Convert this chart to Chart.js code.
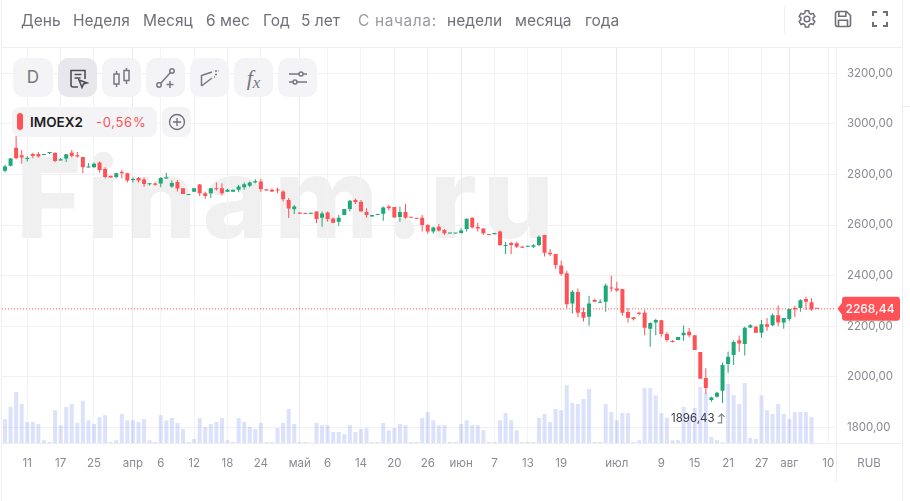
<!DOCTYPE html>
<html lang="ru">
<head>
<meta charset="utf-8">
<title>IMOEX2</title>
<script src="https://cdn.jsdelivr.net/npm/chart.js@4"></script>
<style>
  html, body { margin: 0; background: #fff; }
  body { font-family: Inter, sans-serif; }
  #wrap { position: relative; width: 910px; height: 501px; overflow: hidden; background: #fff; }
  #mark { position: absolute; left: 16px; top: 122px; font: 800 112px/150px Inter, sans-serif; color: #f0f0f1; letter-spacing: 6px; white-space: nowrap; }
  canvas { position: absolute; left: 0; top: 0; }
  .line { position: absolute; background: #eeeef2; z-index: 2; }
  .per { position: absolute; top: 11px; font-size: 15.5px; line-height: 20px; color: #70707a; white-space: nowrap; z-index: 3; }
  .per.dim { color: #9a9aa3; letter-spacing: .6px; }
  .btn { position: absolute; top: 58px; width: 39px; height: 39px; border-radius: 10px; background: #f4f4f6; z-index: 3; color: #77777f; text-align: center; }
  .btn.on { background: #e8e8ec; color: #4e4e58; }
  .btn svg { position: absolute; left: 7.5px; top: 7.5px; }
  .pill { position: absolute; top: 107px; height: 30px; border-radius: 8px; background: #f4f4f6; z-index: 3; }
  .top svg { position: absolute; z-index: 3; }
  #rub { position: absolute; left: 836px; width: 66px; top: 455px; text-align: center; font-size: 11.5px; line-height: 16px; color: #8a8a94; z-index: 3; }
</style>
</head>
<body>
<div id="wrap">
  <div id="mark">Finam.ru</div>
  <canvas id="chart" width="910" height="501"></canvas>

  <div class="line" style="left:1px;top:0;width:1px;height:501px"></div>
  <div class="line" style="left:902px;top:0;width:1px;height:501px"></div>
  <div class="line" style="left:2px;top:47px;width:900px;height:1px"></div>
  <div class="line" style="left:2px;top:443px;width:900px;height:1px"></div>
  <div class="line" style="left:836px;top:47px;width:1px;height:435px"></div>
  <div class="line" style="left:784px;top:7px;width:1px;height:27px"></div>
  <div class="line" style="left:903px;top:106px;width:7px;height:1px"></div>

  <span class="per" style="left:21px">День</span>
  <span class="per" style="left:73px">Неделя</span>
  <span class="per" style="left:143px">Месяц</span>
  <span class="per" style="left:206px">6 мес</span>
  <span class="per" style="left:263px">Год</span>
  <span class="per" style="left:301px">5 лет</span>
  <span class="per dim" style="left:358px">С начала:</span>
  <span class="per" style="left:447px">недели</span>
  <span class="per" style="left:515px">месяца</span>
  <span class="per" style="left:585px">года</span>

  <div class="top">
    <svg style="left:797px;top:9px" width="20" height="20" viewBox="0 0 20 20" fill="none" stroke="#6f6f79" stroke-width="1.5"><path d="M8.3 1.8h3.4l.5 2.3 1.7 1 2.2-.8 1.7 3-1.7 1.6v2l1.7 1.6-1.7 3-2.2-.8-1.7 1-.5 2.3H8.3l-.5-2.3-1.7-1-2.2.8-1.7-3 1.7-1.6v-2L2.2 7.3l1.7-3 2.2.8 1.7-1z"/><circle cx="10" cy="10" r="2.8"/></svg>
    <svg style="left:834px;top:10px" width="18" height="18" viewBox="0 0 18 18" fill="none" stroke="#6f6f79" stroke-width="1.6"><path d="M1.5 3.5a2 2 0 0 1 2-2h9l4 4v9a2 2 0 0 1-2 2h-11a2 2 0 0 1-2-2z"/><path d="M4.8 1.8v4.4h7V1.8M4.5 16.2v-6h9v6"/></svg>
    <svg style="left:872px;top:11px" width="16" height="16" viewBox="0 0 16 16" fill="none" stroke="#6f6f79" stroke-width="2"><path d="M1 5V1h4M11 1h4v4M15 11v4h-4M5 15H1v-4"/></svg>
  </div>

  <div class="btn" style="left:13px;width:40px;font-size:17px;line-height:39px">D</div>
  <div class="btn on" style="left:58px"><svg width="24" height="24" viewBox="0 0 24 24" fill="none" stroke="currentColor" stroke-width="1.6"><path d="M12 21H7a2 2 0 0 1-2-2V4.500h14V13"/><path d="M8.500 8.500h7M8.500 12h6"/><path d="M13 14l8 3-3.500 1-1.500 3.500z"/></svg></div>
  <div class="btn" style="left:102px"><svg width="24" height="24" viewBox="0 0 24 24" fill="none" stroke="currentColor" stroke-width="1.5"><rect x="4" y="8" width="5" height="10"/><path d="M6.500 5v3M6.500 18v3"/><rect x="14" y="4.500" width="5" height="10"/><path d="M16.500 2v2.500M16.500 14.500V18"/></svg></div>
  <div class="btn" style="left:146px"><svg width="24" height="24" viewBox="0 0 24 24" fill="none" stroke="currentColor" stroke-width="1.5"><circle cx="5" cy="19" r="2.200"/><circle cx="18" cy="5" r="2.200"/><path d="M6.500 17.400 16.500 6.600M16 15v7M12.500 18.500h7"/></svg></div>
  <div class="btn" style="left:190px"><svg width="24" height="24" viewBox="0 0 24 24" fill="none" stroke="currentColor" stroke-width="1.5"><path d="M3.500 20V9.500L14 6M3.500 20 14 12"/><path d="M17 5h4M17 8.500h2M16 11h1" stroke-dasharray="2 1.500"/></svg></div>
  <div class="btn" style="left:234px;font:italic 22px/39px 'Liberation Serif',serif">f<span style="font-size:17px;position:relative;top:3px">x</span></div>
  <div class="btn" style="left:278px"><svg width="24" height="24" viewBox="0 0 24 24" fill="none" stroke="currentColor" stroke-width="1.5"><path d="M3 8h10M17 8h4M3 16h4M11 16h10"/><circle cx="15" cy="8" r="2"/><circle cx="9" cy="16" r="2"/></svg></div>

  <div class="pill" style="left:12px;width:145px">
    <span style="position:absolute;left:5px;top:6px;width:6px;height:17px;border-radius:3px;background:#ff5257"></span>
    <span style="position:absolute;left:18px;top:5px;font-size:13.5px;line-height:20px;font-weight:600;color:#1c1c22">IMOEX2</span>
    <span style="position:absolute;left:84px;top:5px;font-size:13px;line-height:20px;letter-spacing:.7px;color:#ff5257">-0,56%</span>
  </div>
  <div class="pill" style="left:162px;width:29px">
    <svg style="position:absolute;left:5px;top:5px" width="20" height="20" viewBox="0 0 20 20" fill="none" stroke="#6f6f79" stroke-width="1.3"><circle cx="10" cy="10" r="7.500"/><path d="M10 6v8M6 10h8"/></svg>
  </div>

  <div id="rub">RUB</div>
</div>

<script>
// цены и объёмы
const open_ = [
  2815,2834,2906,2876,2861,2881,2881,2877,2885,2886,
  2855,2863,2886,2876,2869,2827,2828,2847,2822,2795,
  2790,2810,2805,2778,2786,2780,2761,2764,2764,2784,
  2752,2770,2745,2719,2732,2760,2726,2726,2745,2745,
  2732,2732,2739,2749,2755,2768,2772,2741,2739,2739,
  2733,2699,2662,2649,2647,2645,2653,2629,2649,2626,
  2613,2640,2663,2699,2692,2651,2634,2640,2645,2673,
  2671,2632,2651,2631,2628,2629,2600,2574,2593,2580,
  2566,2566,2568,2584,2629,2592,2586,2564,2563,2574,
  2517,2529,2528,2514,2514,2514,2521,2560,2490,2485,
  2440,2409,2290,2335,2256,2237,2303,2293,2297,2353,
  2349,2347,2256,2235,2253,2253,2190,2214,2223,2169,
  2141,2145,2164,2178,2164,2098,1995,1908,1921,1945,
  2050,2086,2144,2129,2195,2198,2174,2208,2204,2243,
  2214,2228,2272,2272,2307,2295,2270
];
const close_ = [
  2831,2863,2864,2867,2865,2873,2871,2881,2889,2853,
  2860,2880,2873,2871,2828,2830,2842,2818,2790,2788,
  2805,2805,2776,2782,2776,2762,2765,2759,2786,2789,
  2766,2744,2723,2723,2745,2726,2715,2745,2741,2726,
  2739,2739,2752,2761,2768,2773,2741,2736,2733,2736,
  2702,2665,2673,2645,2644,2648,2624,2646,2624,2609,
  2629,2663,2696,2691,2653,2640,2640,2644,2669,2666,
  2630,2651,2629,2629,2625,2600,2574,2590,2578,2567,
  2568,2568,2578,2625,2590,2586,2567,2560,2568,2521,
  2520,2521,2514,2510,2518,2520,2554,2490,2484,2442,
  2406,2287,2336,2253,2233,2290,2297,2297,2361,2349,
  2341,2253,2233,2228,2248,2194,2212,2224,2169,2145,
  2137,2157,2174,2164,2106,1992,1955,1918,1937,2046,
  2079,2137,2131,2194,2204,2174,2208,2198,2243,2214,
  2232,2268,2266,2302,2297,2266,2268.44
];
const high_ = [
  2838,2865,2952,2897,2873,2886,2889,2881,2889,2886,
  2865,2880,2897,2889,2869,2844,2847,2851,2828,2795,
  2807,2818,2807,2788,2790,2788,2765,2768,2790,2807,
  2776,2778,2745,2723,2745,2762,2732,2745,2768,2765,
  2743,2739,2759,2768,2772,2781,2782,2741,2744,2748,
  2737,2707,2679,2649,2647,2648,2653,2653,2653,2630,
  2640,2663,2699,2705,2699,2666,2640,2644,2673,2679,
  2671,2673,2683,2631,2628,2640,2603,2593,2604,2584,
  2568,2568,2587,2626,2630,2609,2586,2564,2568,2578,
  2533,2533,2534,2518,2518,2524,2559,2560,2505,2485,
  2459,2419,2343,2349,2274,2320,2308,2306,2369,2399,
  2376,2347,2272,2235,2257,2264,2215,2229,2224,2177,
  2145,2157,2203,2193,2164,2098,2034,1921,1941,2055,
  2099,2144,2163,2198,2208,2202,2224,2232,2250,2282,
  2232,2269,2282,2306,2316,2310,2270
];
const low_ = [
  2809,2831,2860,2842,2851,2864,2867,2877,2881,2848,
  2855,2849,2867,2867,2805,2827,2826,2807,2785,2788,
  2785,2784,2768,2768,2768,2751,2755,2755,2749,2784,
  2747,2733,2723,2719,2732,2715,2704,2707,2736,2718,
  2732,2732,2730,2739,2749,2765,2731,2736,2731,2726,
  2693,2628,2644,2645,2644,2645,2607,2593,2613,2608,
  2597,2640,2653,2683,2653,2629,2634,2640,2617,2657,
  2630,2613,2625,2629,2625,2574,2565,2565,2574,2560,
  2566,2566,2566,2574,2587,2574,2560,2560,2563,2517,
  2485,2485,2509,2509,2514,2509,2517,2475,2477,2426,
  2399,2272,2250,2235,2218,2202,2297,2293,2257,2336,
  2336,2241,2214,2222,2243,2164,2119,2164,2158,2138,
  2135,2145,2142,2156,2106,1992,1932,1901,1918,1896.43,
  2016,2046,2099,2084,2192,2173,2154,2182,2200,2200,
  2190,2221,2236,2257,2264,2261,2268
];
const volume = [
  72,109,154,118,64,64,58,9,4,99,
  54,109,118,61,128,69,58,79,84,4,
  9,88,69,69,64,73,9,4,84,69,
  76,61,43,4,13,76,49,58,64,76,
  9,4,76,64,49,43,61,4,4,46,
  61,103,58,4,4,2,61,54,54,34,
  34,28,54,34,43,46,4,4,61,39,
  46,58,54,4,4,76,94,69,54,54,
  4,4,58,69,54,54,39,4,4,69,
  91,69,39,4,4,4,76,88,64,103,
  99,174,121,118,133,163,4,4,118,94,
  69,91,91,4,9,166,166,144,91,76,
  9,9,109,85,106,170,150,19,9,3,
  178,144,118,181,16,13,144,99,88,118,
  88,73,94,94,94,79,0
];

const tickIndex  = [4,10,16,23,28,34,40,46,53,58,64,70,76,82,88,94,100,110,118,124,130,136,141,148];
const tickLabels = ['11','17','25','апр','6','12','18','24','май','6','14','20','26','июн','7','13','19','июл','9','15','21','27','авг','10'];
const monthTicks = [23,53,82,110,141];
const priceTicks = [1800,2000,2200,2400,2600,2800,3000,3200];

const RED = '#ff5257';
const GREEN = '#1fa878';
const TEXT = '#8a8a94';
const LOW_INDEX = 129;

const xs = open_.map((_, i) => i);
const isUp = i => close_[i] >= open_[i];
const colors = xs.map(i => isUp(i) ? GREEN : RED);
const priceText = v => v.toFixed(2).replace('.', ',');
const last = close_[close_.length - 1];

// ценник справа и подпись минимума
const overlay = {
  id: 'overlay',
  afterDraw(chart) {
    const {ctx, scales} = chart;
    const y = scales.y.getPixelForValue(last);
    ctx.save();
    ctx.fillStyle = RED;
    ctx.beginPath();
    ctx.moveTo(837.5, y);
    ctx.lineTo(842, y - 6);
    ctx.lineTo(842, y - 9);
    ctx.quadraticCurveTo(842, y - 12, 845, y - 12);
    ctx.lineTo(897, y - 12);
    ctx.quadraticCurveTo(900, y - 12, 900, y - 9);
    ctx.lineTo(900, y + 9);
    ctx.quadraticCurveTo(900, y + 12, 897, y + 12);
    ctx.lineTo(845, y + 12);
    ctx.quadraticCurveTo(842, y + 12, 842, y + 9);
    ctx.lineTo(842, y + 6);
    ctx.closePath();
    ctx.fill();
    ctx.fillStyle = '#fff';
    ctx.font = '500 12px Inter, sans-serif';
    ctx.textAlign = 'center';
    ctx.textBaseline = 'middle';
    ctx.fillText(priceText(last), 870, y + 0.5);

    const lx = scales.x.getPixelForValue(LOW_INDEX);
    const ly = scales.y.getPixelForValue(low_[LOW_INDEX]);
    ctx.fillStyle = '#3a3a42';
    ctx.font = '11.5px Inter, sans-serif';
    ctx.textAlign = 'right';
    ctx.fillText(priceText(low_[LOW_INDEX]), lx - 8, ly + 16);
    ctx.strokeStyle = TEXT;
    ctx.lineWidth = 1.3;
    ctx.beginPath();
    ctx.moveTo(lx - 5, ly + 20);
    ctx.lineTo(lx - 1, ly + 20);
    ctx.lineTo(lx - 1, ly + 11);
    ctx.moveTo(lx - 4, ly + 14);
    ctx.lineTo(lx - 1, ly + 11);
    ctx.lineTo(lx + 2, ly + 14);
    ctx.stroke();
    ctx.restore();
  }
};

new Chart(document.getElementById('chart'), {
  type: 'bar',
  plugins: [overlay],
  data: {
    datasets: [
      {
        type: 'line',
        data: [{x: -0.54, y: last}, {x: 149.4, y: last}],
        borderColor: RED,
        borderWidth: 1,
        borderDash: [1, 2],
        pointRadius: 0,
        order: 0
      },
      {
        data: xs.map(i => ({x: i, y: [open_[i], close_[i]]})),
        backgroundColor: colors,
        barThickness: 4,
        minBarLength: 1,
        grouped: false,
        inflateAmount: 0,
        order: 1
      },
      {
        data: xs.map(i => ({x: i, y: [low_[i], high_[i]]})),
        backgroundColor: colors,
        barThickness: 1,
        grouped: false,
        inflateAmount: 0,
        order: 2
      },
      {
        data: xs.map(i => ({x: i, y: volume[i]})),
        yAxisID: 'y2',
        backgroundColor: 'rgba(100,122,240,0.22)',
        barThickness: 4,
        grouped: false,
        inflateAmount: 0,
        order: 3
      }
    ]
  },
  options: {
    responsive: false,
    animation: false,
    devicePixelRatio: 1,
    layout: {padding: {left: 2, top: 47, right: 0, bottom: 0}},
    plugins: {legend: {display: false}, tooltip: {enabled: false}},
    scales: {
      x: {
        type: 'linear',
        offset: false,
        min: -0.54,
        max: 149.4,
        afterBuildTicks: s => { s.ticks = tickIndex.map(v => ({value: v})); },
        afterFit: s => { s.height = 57.7; s.paddingLeft = 0; s.paddingRight = 0; },
        ticks: {
          autoSkip: false,
          maxRotation: 0,
          padding: 13,
          color: TEXT,
          font: {family: 'Inter', size: 11.5},
          callback: (v, i) => tickLabels[i]
        },
        grid: {
          offset: false,
          drawTicks: false,
          color: c => monthTicks.includes(c.tick && c.tick.value) ? '#e8e8ed' : '#f3f3f6'
        },
        border: {display: false}
      },
      y: {
        position: 'right',
        min: 1736.7,
        max: 3304,
        afterBuildTicks: s => { s.ticks = priceTicks.map(v => ({value: v})); },
        afterFit: s => { s.width = 74; s.paddingTop = 0; s.paddingBottom = 0; },
        ticks: {
          padding: 11,
          color: TEXT,
          font: {family: 'Inter', size: 11.5},
          callback: v => priceText(v)
        },
        grid: {drawTicks: false, color: '#f1f1f4'},
        border: {display: false}
      },
      y2: {display: false, position: 'right', min: 0, max: 1189}
    }
  }
});
</script>
</body>
</html>
